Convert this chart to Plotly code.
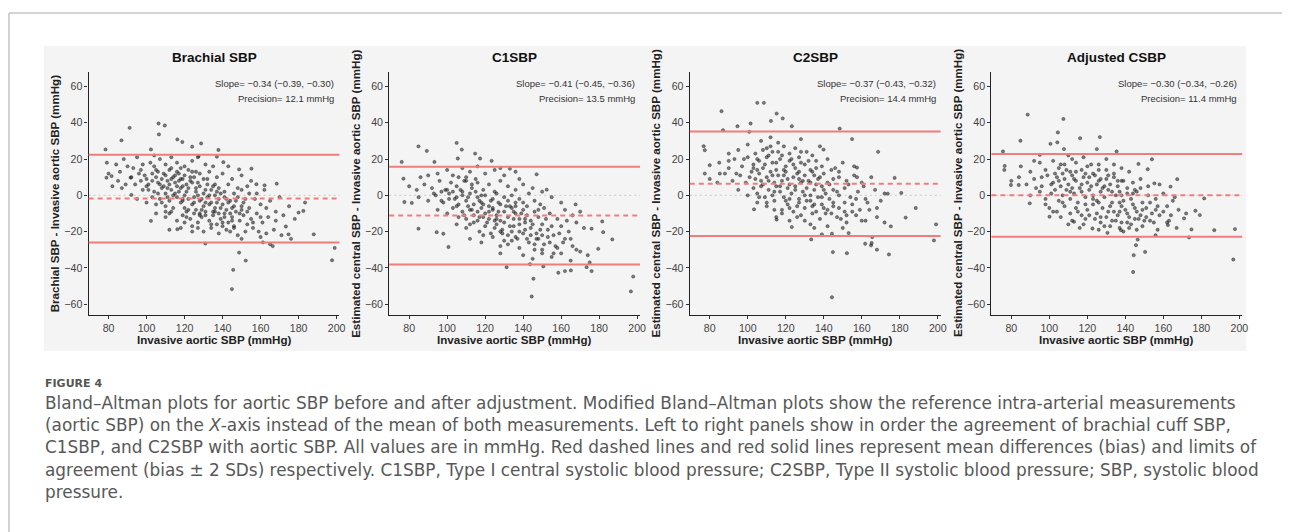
import plotly.graph_objects as go

# The page body has an 8px default margin: the figure is drawn 8px in from the
# window's top-left corner, so all pixel positions below are window positions.
OFF = 8
W, H = 1290 - OFF, 532 - OFF

# ---------------- data ----------------
panel_titles = ["Brachial SBP", "C1SBP", "C2SBP", "Adjusted CSBP"]
y_titles = ["Brachial SBP - Invasive aortic SBP (mmHg)",
            "Estimated central SBP - Invasive aortic SBP (mmHg)",
            "Estimated central SBP - Invasive aortic SBP (mmHg)",
            "Estimated central SBP - Invasive aortic SBP (mmHg)"]
x_title = "Invasive aortic SBP (mmHg)"
slope_text = ["Slope= \u22120.34 (\u22120.39, \u22120.30)", "Slope= \u22120.41 (\u22120.45, \u22120.36)",
              "Slope= \u22120.37 (\u22120.43, \u22120.32)", "Slope= \u22120.30 (\u22120.34, \u22120.26)"]
precision_text = ["Precision= 12.1 mmHg", "Precision= 13.5 mmHg",
                  "Precision= 14.4 mmHg", "Precision= 11.4 mmHg"]
bias = [-1.8, -11.2, 6.4, 0.0]
upper_loa = [22.4, 15.8, 35.2, 22.8]
lower_loa = [-26.0, -38.2, -22.4, -22.8]
x_ticks = [80, 100, 120, 140, 160, 180, 200]
y_ticks = [-60, -40, -20, 0, 20, 40, 60]

brachial_pts = [
    (78.4, 25.3), (79.1, 18), (78.9, 9.7), (81.6, 10.6), (86.8, 30.3), (91.1, 37.2), (106.3, 39.6),
    (109.6, 38.5), (106.5, 33.6), (116.2, 30.8), (118.8, 29.4), (128.7, 28.6), (137.8, 25), (102.3, 25.3),
    (91.6, 9.7), (92, 0.2), (102.3, -14.1), (116.2, -18.7), (124, -20), (130.9, -26.6), (148.7, -31.6),
    (152.2, -36), (145.6, -41.1), (144.9, -51.7), (161.2, -25.9), (165, -27), (166.4, -28), (173.3, -17.2),
    (174.7, -21.5), (188, -21.5), (199, -29), (197.6, -35.8), (182.5, -8.6), (180, -9.5), (183.4, -4),
    (168.5, 6.4), (162.1, 5.5), (157.8, 6.1), (155.2, 14.7), (148.7, 14.3), (140.4, 18.3), (137, 21.3),
    (127.4, 21.7), (124, 26.8),
    (84, 17), (88, 20), (90, 16), (95, 21), (98, 17), (102, 18), (104, 22), (107, 20), (110, 17), (113, 21),
    (116, 18), (120, 16), (124, 19), (127, 21), (131, 17), (135, 16), (143, 16), (97, 14), (93, 15), (105, 14),
    (80, 12), (86, 13), (92, 10), (96, 12), (100, 9), (103, 12), (106, 13), (108, 9), (110, 11), (112, 14),
    (114, 10), (116, 13), (118, 9), (120, 11), (122, 14), (125, 10), (128, 12), (130, 9), (133, 13), (137, 10),
    (140, 12), (145, 9), (150, 11), (155, 8), (85, 8), (89, 6), (99, 11), (111, 8), (117, 12), (123, 8), (126, 13),
    (82, 5), (87, 4), (94, 6), (98, 3), (101, 6), (104, 2), (106, 7), (108, 4), (110, 1), (112, 6), (113, 3),
    (115, 7), (117, 2), (119, 5), (120, 0), (122, 4), (124, 7), (126, 2), (128, 5), (130, 1), (132, 6), (134, 3),
    (136, 0), (138, 4), (141, 2), (143, 6), (146, 1), (150, 3), (153, 5), (158, 1), (162, 3), (170, -1), (109, 5),
    (114, 0), (118, 4), (121, 6), (127, 0), (131, 3), (135, 5), (139, 1),
    (95, -2), (100, -4), (103, -1), (105, -5), (107, -2), (110, -6), (112, -3), (114, -7), (116, -1), (118, -4),
    (120, -7), (122, -2), (124, -5), (126, -8), (128, -3), (130, -6), (132, -1), (134, -4), (136, -7), (138, -2),
    (140, -5), (142, -8), (144, -3), (146, -6), (148, -1), (151, -4), (154, -7), (157, -2), (160, -5), (165, -3),
    (175, -6), (111, -1), (119, -2), (125, -1), (129, -8), (133, -5), (137, -4), (141, -1), (145, -7), (152, -2),
    (105, -10), (110, -12), (113, -9), (116, -14), (119, -11), (121, -9), (123, -13), (125, -10), (127, -15),
    (129, -12), (131, -9), (133, -14), (135, -11), (137, -16), (139, -13), (141, -10), (143, -15), (145, -12),
    (147, -9), (149, -14), (151, -11), (153, -16), (155, -13), (158, -10), (161, -15), (164, -12), (168, -14),
    (172, -11), (178, -13), (120, -15), (128, -11), (136, -9), (140, -15), (144, -10), (150, -8),
    (112, -19), (118, -18), (124, -17), (130, -20), (134, -18), (138, -21), (142, -19), (146, -17), (148, -22),
    (152, -20), (156, -18), (160, -23), (163, -21), (167, -19), (171, -22), (176, -24), (140, -17), (150, -24),
    (101, 3), (103, 8), (105, 10), (107, 6), (109, 12), (111, 4), (113, 9), (115, 1), (117, 8), (119, -3),
    (121, 2), (123, 10), (125, -4), (127, 7), (129, -2), (131, -11), (133, 0), (135, -9), (137, 2), (139, -7),
    (141, -12), (143, -4), (145, -14), (147, -3), (149, -10), (115, 11), (118, 15), (121, -12), (124, 13),
    (108, -4), (106, 1), (112, -10), (116, 5), (119, 9), (122, -8), (126, 4), (128, -10), (132, 9), (134, -16),
    (138, -10), (142, -2), (146, -18), (150, -6), (153, -9), (156, -15), (159, -20), (113, 15), (104, 16),
    (100, 5), (97, 8), (110, -9), (127, -18), (131, -4), (136, 6), (144, -20), (148, 4), (154, 1), (160, -12),
    (163, -7), (168, -9),
]

c1_pts = [
    (76.1, 18.4), (84.9, 27), (89.3, 24.5), (93.3, 18.4), (77, 9.2), (77.5, -3.7), (81.4, -4.2), (84.9, -18.4),
    (105, 28.9), (107.7, 25.2), (105.6, 20.3), (114.7, 23), (117.3, 20.3), (123.4, 19), (133, 14.7), (147.1, 11.6),
    (152.4, 3.1), (167.6, -5), (176, -18.4), (181.6, -14.4), (182.1, -20.3), (186.9, -24.3), (179.5, -29.5),
    (197.9, -44.8), (196.7, -53), (144.5, -55.8), (145.4, -46), (143.6, -38), (131.3, -39.6), (150.6, -39.2),
    (158.5, -42.7), (162, -41.8), (165.1, -41.4), (173.4, -39.6), (176, -41.8), (100.7, -28.5), (98, -21.2),
    (94.5, -20.3),
    (95, 12), (100, 14), (103, 11), (108, 15), (112, 13), (116, 16), (120, 12), (125, 14), (130, 11), (136, 13),
    (90, 11), (86, 10), (110, 10), (128, 15),
    (80, 5), (84, 3), (88, 6), (92, 4), (96, 8), (99, 3), (102, 7), (105, 5), (108, 2), (110, 8), (113, 4),
    (116, 7), (119, 3), (122, 6), (125, 2), (128, 8), (132, 5), (136, 3), (140, 6), (145, 4), (150, 2), (97, 2),
    (115, 9), (138, 9),
    (85, -1), (90, -3), (94, 0), (98, -4), (101, 1), (104, -2), (106, -5), (108, 0), (110, -3), (112, 1),
    (114, -5), (116, -1), (118, -4), (120, 0), (122, -6), (124, -2), (126, 1), (128, -5), (130, -1), (132, -3),
    (134, 0), (136, -6), (138, -2), (140, -4), (143, 1), (146, -3), (149, -5), (155, -1), (160, -4), (105, -1),
    (117, -3), (127, -4), (133, -6),
    (95, -8), (100, -10), (103, -7), (106, -12), (108, -9), (110, -13), (112, -8), (114, -11), (116, -14),
    (118, -7), (120, -10), (122, -13), (124, -8), (126, -11), (128, -14), (130, -9), (132, -12), (134, -7),
    (136, -10), (138, -13), (140, -8), (142, -11), (144, -14), (146, -9), (148, -12), (151, -7), (154, -10),
    (158, -13), (162, -8), (166, -11), (170, -9), (111, -6), (119, -12), (125, -14), (135, -9), (141, -13),
    (105, -16), (110, -18), (114, -15), (117, -20), (120, -17), (123, -21), (126, -16), (129, -19), (132, -22),
    (135, -17), (138, -20), (141, -15), (144, -18), (147, -21), (150, -16), (153, -19), (156, -22), (160, -17),
    (164, -20), (168, -15), (172, -18), (130, -15), (140, -21), (150, -22), (119, -22),
    (112, -24), (118, -26), (124, -23), (128, -28), (134, -25), (138, -29), (142, -24), (146, -27), (150, -30),
    (154, -26), (158, -29), (162, -24), (166, -28), (170, -31), (174, -33), (136, -23), (148, -24), (160, -32),
    (140, -33), (145, -35), (150, -32), (155, -34), (165, -36), (175, -37), (128, -32),
    (101, -2), (103, 2), (105, -6), (107, 3), (109, -11), (111, -1), (113, -8), (115, 2), (117, -12), (119, -5),
    (121, -15), (123, -3), (125, -18), (127, -9), (129, -21), (131, -6), (133, -17), (135, -13), (137, -24),
    (139, -10), (141, -19), (143, -26), (145, -16), (147, -24), (149, -19), (151, -27), (153, -23), (155, -17),
    (157, -28), (159, -21), (113, 6), (109, 8), (118, 0), (122, -9), (126, -13), (130, -25), (134, -20),
    (138, -16), (142, -6), (146, -30), (152, -13), (161, -26), (165, -24), (168, -30), (100, 3), (97, -3),
    (93, 1), (106, 10), (112, -16), (116, -9), (124, -7), (128, -20), (132, -27), (136, -4), (144, -22),
    (148, -8), (156, -32), (163, -14),
]

c2_pts = [
    (76.8, 27.1), (77.4, 24.9), (80, 16.6), (77.4, 12), (85.3, 12), (86.2, 46.4), (87, 35.9), (94.6, 38.1),
    (101.5, 39.6), (100.8, 35), (105, 51), (108.5, 51), (112.2, 41), (115.2, 45.1), (118.4, 42.4), (123.2, 38.1),
    (139.9, 25.2), (148.4, 36.8), (154.9, 31), (157.5, 15.3), (157.5, 10), (168.6, 24), (177.3, 9.6),
    (173.7, 0.9), (180.8, 1.3), (188.4, -7), (183.1, -12.3), (175.3, -17.1), (199.1, -16), (198, -24.9),
    (174.3, -32.6), (168, -30), (164.9, -27.6), (161.8, -26.7), (152.2, -31.9), (144.8, -31.3), (144.3, -56.2),
    (133.4, -24.3), (139, -21.5), (144.3, -21.2), (153.1, -20.8), (165.5, -23), (165.2, -26.3), (103.3, -7.7),
    (115.2, -13.4), (123.2, -17.5),
    (95, 25), (100, 28), (104, 23), (107, 30), (110, 26), (113, 24), (116, 29), (119, 27), (122, 23), (125, 26),
    (128, 31), (131, 24), (134, 22), (138, 27), (90, 23), (112, 32),
    (85, 18), (90, 15), (93, 20), (97, 16), (100, 21), (103, 17), (106, 19), (108, 15), (110, 21), (113, 18),
    (115, 14), (117, 20), (120, 16), (122, 19), (125, 15), (127, 21), (130, 17), (133, 14), (136, 19), (139, 16),
    (142, 20), (146, 15), (150, 18), (105, 14), (118, 22), (128, 18),
    (80, 9), (84, 7), (88, 12), (92, 8), (96, 11), (99, 7), (102, 13), (104, 9), (106, 12), (108, 6), (110, 10),
    (112, 13), (114, 7), (116, 11), (118, 8), (120, 13), (122, 6), (124, 10), (126, 12), (128, 7), (130, 11),
    (132, 8), (134, 13), (136, 6), (138, 10), (140, 12), (142, 7), (145, 9), (148, 13), (152, 8), (156, 11),
    (160, 7), (165, 10), (111, 8), (119, 11), (127, 9), (135, 11),
    (95, 3), (100, 0), (103, 4), (105, 1), (107, 5), (109, -1), (111, 3), (113, 0), (115, 5), (117, 2), (119, -1),
    (121, 4), (123, 1), (125, 5), (127, -2), (129, 2), (131, 4), (133, 0), (135, 3), (137, -1), (139, 5), (141, 1),
    (143, -2), (145, 3), (148, 0), (151, 4), (154, -1), (158, 2), (162, -2), (167, 3), (172, 1), (114, 2),
    (122, -2), (130, 0), (140, 3),
    (105, -4), (110, -6), (114, -3), (118, -8), (121, -5), (124, -9), (127, -4), (130, -7), (133, -3), (136, -9),
    (139, -5), (142, -8), (145, -4), (148, -7), (151, -9), (155, -5), (159, -8), (163, -4), (168, -7), (126, -6),
    (134, -6), (144, -10),
    (115, -12), (122, -14), (128, -11), (133, -16), (138, -13), (142, -17), (147, -12), (152, -15), (157, -11),
    (162, -14), (168, -12), (150, -18), (135, -18),
    (101, 10), (103, 15), (105, 20), (107, 8), (109, 17), (111, 22), (113, 11), (115, 18), (117, 5), (119, 14),
    (121, 9), (123, 20), (125, 3), (127, 13), (129, 8), (131, -3), (133, 7), (135, -5), (137, 9), (139, -1),
    (141, -10), (143, 6), (145, -6), (147, 2), (149, -13), (151, -4), (153, 6), (155, -9), (157, -2), (160, -14),
    (108, 25), (112, 27), (116, 24), (120, -3), (124, 17), (128, 24), (132, 19), (136, 15), (140, -7), (144, 14),
    (148, 10), (152, -11), (156, 16), (106, -1), (110, -4), (114, -8), (118, -10), (122, -7), (126, -12),
    (130, -14), (134, -10), (98, 20), (94, 12), (90, 19), (161, 5), (164, -8), (170, -3), (172, -15),
]

adjusted_pts = [
    (75.6, 24.2), (76.5, 16.2), (76.3, 14), (88.6, 44.5), (84.8, 30.1), (79.8, 5.7), (83.9, 5.7), (89.7, -4.4),
    (95, 22.3), (100.6, 28.4), (104.2, 29.2), (104.5, 34.7), (107.4, 42.1), (107.7, 25.5), (116.2, 31.5),
    (126.6, 32.1), (125, 25.5), (135.4, 24.2), (146.9, 17.3), (154, 19.9), (151.8, 14.4), (167.3, 8.9),
    (163.8, 4.8), (155.3, 6.6), (181.5, -1.7), (176.9, -8.5), (179.2, -10.9), (174.8, -18.8), (186.8, -19.2),
    (197.7, -18.6), (196.8, -35.4), (144.1, -42.3), (144.4, -33), (145.6, -27.5), (146.5, -24.4), (150.4, -31.2),
    (137.7, -19.2), (130.6, -20.7), (122.7, -18.3), (113, -14.6), (100.1, -11.8), (155.9, -22), (173.5, -23.2),
    (162.4, -16.4), (170.9, -12.7),
    (85, 16), (90, 13), (95, 18), (98, 14), (102, 19), (105, 15), (108, 17), (111, 13), (114, 18), (117, 14),
    (120, 16), (123, 12), (126, 17), (130, 14), (134, 12), (138, 15), (142, 13), (92, 19), (112, 20),
    (80, 8), (84, 10), (88, 6), (92, 9), (96, 5), (99, 11), (102, 7), (104, 10), (106, 5), (108, 9), (110, 6),
    (112, 11), (114, 8), (116, 4), (118, 10), (120, 7), (122, 5), (124, 11), (126, 8), (128, 4), (130, 9),
    (132, 6), (134, 10), (136, 5), (138, 8), (141, 4), (144, 7), (148, 9), (152, 5), (158, 6), (107, 12),
    (119, 12), (131, 11),
    (90, 0), (95, 2), (98, -2), (101, 1), (103, 3), (105, -3), (107, 0), (109, 3), (111, -2), (113, 1), (115, -4),
    (117, 2), (119, -1), (121, 3), (123, 0), (125, -3), (127, 2), (129, -1), (131, 3), (133, -4), (135, 0),
    (137, 2), (139, -3), (141, 1), (143, -2), (146, 2), (149, -4), (152, 0), (156, -2), (160, 1), (165, -3),
    (112, 4), (126, -4), (138, 0),
    (100, -7), (104, -9), (108, -6), (111, -10), (114, -7), (117, -11), (120, -8), (123, -5), (125, -10),
    (128, -7), (130, -12), (132, -6), (134, -9), (136, -11), (138, -6), (140, -8), (142, -12), (144, -5),
    (146, -9), (148, -11), (151, -7), (154, -10), (157, -6), (160, -9), (164, -11), (168, -8), (172, -10),
    (119, -5), (127, -12), (137, -9), (145, -7),
    (112, -14), (118, -16), (124, -13), (129, -17), (133, -14), (137, -18), (141, -15), (145, -13), (149, -17),
    (153, -14), (157, -19), (162, -15), (167, -18), (139, -20), (126, -19),
    (101, 6), (103, 12), (105, 8), (107, -4), (109, 14), (111, 2), (113, 9), (115, -9), (117, 6), (119, -13),
    (121, 10), (123, -2), (125, 6), (127, -15), (129, 5), (131, -9), (133, 2), (135, -14), (137, -4), (139, 8),
    (141, -10), (143, -16), (145, 3), (147, -13), (149, -8), (151, -12), (153, -4), (155, -15), (158, -11),
    (162, -6), (106, 17), (110, 22), (114, 13), (118, 21), (122, 17), (126, 14), (130, 20), (134, 17),
    (138, -15), (142, -18), (146, -19), (150, -14), (96, 10), (93, 4), (98, -5), (102, -9), (106, -12),
    (110, -16), (116, -18), (121, -11), (127, 9), (132, -17), (136, 8), (144, 1), (148, 4), (156, -8),
    (163, -14), (166, -1),
]

panels_pts = [brachial_pts, c1_pts, c2_pts, adjusted_pts]

caption_label = "FIGURE 4"
caption_lines = [
    "Bland\u2013Altman plots for aortic SBP before and after adjustment. Modified Bland\u2013Altman plots show the reference intra-arterial measurements",
    "(aortic SBP) on the <i>X</i>-axis instead of the mean of both measurements. Left to right panels show in order the agreement of brachial cuff SBP,",
    "C1SBP, and C2SBP with aortic SBP. All values are in mmHg. Red dashed lines and red solid lines represent mean differences (bias) and limits of",
    "agreement (bias \u00b1 2 SDs) respectively. C1SBP, Type I central systolic blood pressure; C2SBP, Type II systolic blood pressure; SBP, systolic blood",
    "pressure.",
]

# ---------------- layout geometry (window pixels) ----------------
def px(x):
    return (x - OFF) / W

def py(y):
    return 1 - (y - OFF) / H

panel_left = [89, 391, 693, 996]
panel_w = 252
plot_top, plot_bottom = 72, 315
x_range = [69.5, 201.5]
y_range = [-66, 68]

RED = "rgb(240,125,125)"
FONT = "Liberation Sans, Arial, sans-serif"
CAP_FONT = "DejaVu Sans, sans-serif"

fig = go.Figure()
shapes = []
annotations = []

# gray figure background + page rules
shapes.append(dict(type="rect", xref="paper", yref="paper", x0=px(44), x1=px(1252), y0=py(351), y1=py(46),
                   fillcolor="#f4f4f4", line=dict(width=0), layer="below"))
shapes.append(dict(type="line", xref="paper", yref="paper", x0=px(9), x1=1, y0=py(13), y1=py(13),
                   line=dict(color="#c4c4c4", width=1.5)))
shapes.append(dict(type="line", xref="paper", yref="paper", x0=px(9), x1=px(9), y0=0, y1=py(13),
                   line=dict(color="#c4c4c4", width=1.5)))

for i in range(4):
    n = "" if i == 0 else str(i + 1)
    xa = "x" + n
    ya = "y" + n
    L = panel_left[i]
    R = L + panel_w
    pts = panels_pts[i]
    fig.add_trace(go.Scatter(
        x=[p[0] for p in pts], y=[p[1] for p in pts], mode="markers",
        xaxis=xa, yaxis=ya, showlegend=False, hoverinfo="skip",
        marker=dict(size=3.3, color="rgba(40,40,40,0.6)",
                    line=dict(width=0.5, color="rgba(0,0,0,0.6)"))))
    axis_common = dict(showline=True, linecolor="#222", linewidth=1.3, ticks="outside", ticklen=3,
                       tickwidth=1, tickcolor="#333", showgrid=False, zeroline=False,
                       tickfont=dict(family=FONT, size=10.6, color="#444"))
    fig.update_layout(**{
        ("xaxis" + n): dict(domain=[px(L), px(R)], range=x_range, anchor=ya, tickvals=x_ticks, **axis_common),
        ("yaxis" + n): dict(domain=[py(plot_bottom), py(plot_top)], range=y_range, anchor=xa,
                            tickvals=y_ticks, **axis_common),
    })
    # zero reference (dotted grey)
    shapes.append(dict(type="line", xref=xa + " domain", yref=ya, x0=0, x1=1, y0=0, y1=0,
                       line=dict(color="#c9c9c9", width=1, dash="2px,3px"), layer="below"))
    # limits of agreement and bias
    for val, dash in [(upper_loa[i], "solid"), (lower_loa[i], "solid"), (bias[i], "5px,4px")]:
        shapes.append(dict(type="line", xref=xa + " domain", yref=ya, x0=0, x1=1, y0=val, y1=val,
                           line=dict(color=RED, width=2, dash=dash), layer="above"))
    cx = (L + R) / 2
    annotations.append(dict(text="<b>" + panel_titles[i] + "</b>", x=px(cx), y=py(58), xref="paper",
                            yref="paper", showarrow=False, xanchor="center", yanchor="middle",
                            font=dict(family=FONT, size=13.5, color="#111")))
    annotations.append(dict(text=slope_text[i], x=px(R - 3), y=py(83), xref="paper", yref="paper",
                            showarrow=False, xanchor="right", yanchor="middle",
                            font=dict(family=FONT, size=9.5, color="#333")))
    annotations.append(dict(text=precision_text[i], x=px(R - 3), y=py(98), xref="paper", yref="paper",
                            showarrow=False, xanchor="right", yanchor="middle",
                            font=dict(family=FONT, size=9.5, color="#333")))
    annotations.append(dict(text="<b>" + y_titles[i] + "</b>", x=px(L - 34), y=py((plot_top + plot_bottom) / 2),
                            xref="paper", yref="paper", showarrow=False, textangle=-90,
                            xanchor="center", yanchor="middle",
                            font=dict(family=FONT, size=11.6, color="#222")))
    annotations.append(dict(text="<b>" + x_title + "</b>", x=px(cx), y=py(339), xref="paper", yref="paper",
                            showarrow=False, xanchor="center", yanchor="middle",
                            font=dict(family=FONT, size=11.6, color="#222")))

# caption
annotations.append(dict(text="<b>" + caption_label + "</b>", x=px(43), y=py(383), xref="paper", yref="paper",
                        showarrow=False, xanchor="left", yanchor="middle",
                        font=dict(family=CAP_FONT, size=11, color="#555")))
line_y = [403, 425, 447, 469.5, 491.5]
for t, yy in zip(caption_lines, line_y):
    annotations.append(dict(text=t, x=px(43), y=py(yy), xref="paper", yref="paper", showarrow=False,
                            xanchor="left", yanchor="middle",
                            font=dict(family=CAP_FONT, size=16.9, color="#585858")))

fig.update_layout(width=W, height=H, margin=dict(l=0, r=0, t=0, b=0), paper_bgcolor="white",
                  plot_bgcolor="rgba(0,0,0,0)", shapes=shapes, annotations=annotations, showlegend=False)

fig.write_html("out.html")
